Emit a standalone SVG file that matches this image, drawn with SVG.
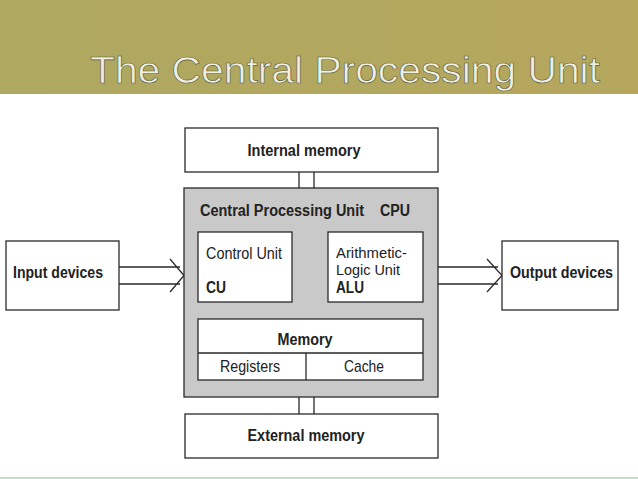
<svg xmlns="http://www.w3.org/2000/svg" width="638" height="479" viewBox="0 0 638 479">
<defs>
<linearGradient id="band" x1="0" y1="0" x2="1" y2="0">
<stop offset="0" stop-color="#aea861"/>
<stop offset="1" stop-color="#b6a75d"/>
</linearGradient>
</defs>
<style>
.box{fill:#ffffff;stroke:#2a2a2a;stroke-width:1.3}
.cpu{fill:#c9c9c9;stroke:#2a2a2a;stroke-width:1.3}
.ln{stroke:#2a2a2a;stroke-width:1.3;fill:none}
.b{font-family:"Liberation Sans",Arial,sans-serif;font-weight:bold;font-size:16px;fill:#222}
.r{font-family:"Liberation Sans",Arial,sans-serif;font-size:17px;fill:#222}
.s{font-family:"Liberation Sans",Arial,sans-serif;font-size:15px;fill:#222}
.title{font-family:"Liberation Sans",Arial,sans-serif;font-size:36px;fill:#f0f0e2;stroke:#5a5a3a;stroke-width:0.6}
</style>
<rect x="0" y="0" width="638" height="479" fill="#ffffff"/>
<rect x="0" y="0" width="638" height="94" fill="url(#band)"/>
<rect x="0" y="477" width="638" height="2" fill="#c5dcc5"/>
<text class="title" x="90" y="83" textLength="510" lengthAdjust="spacingAndGlyphs">The Central Processing Unit</text>

<g id="connectors">
<path class="ln" d="M299 172V188M314 172V188"/>
<path class="ln" d="M299 397V414M314 397V414"/>
<path class="ln" d="M119 267H180M119 284H180M170 259L184 275.5L170 292"/>
<path class="ln" d="M438 267H498M438 284H498M487 259L502 275.5L487 292"/>
</g>

<g id="internal-memory">
<rect class="box" x="185" y="128" width="253" height="44"/>
<text class="b" x="304" y="156" text-anchor="middle" textLength="113" lengthAdjust="spacingAndGlyphs">Internal memory</text>
</g>

<g id="cpu">
<rect class="cpu" x="184" y="188" width="254" height="209"/>
<text class="b" x="200" y="216" textLength="164" lengthAdjust="spacingAndGlyphs">Central Processing Unit</text>
<text class="b" x="380" y="216" textLength="30" lengthAdjust="spacingAndGlyphs">CPU</text>
</g>

<g id="control-unit">
<rect class="box" x="198" y="232" width="94" height="70"/>
<text class="r" x="206" y="259" textLength="76" lengthAdjust="spacingAndGlyphs">Control Unit</text>
<text class="b" x="206" y="293" textLength="20" lengthAdjust="spacingAndGlyphs">CU</text>
</g>

<g id="alu">
<rect class="box" x="328" y="232" width="95" height="70"/>
<text class="s" x="336" y="257.5" textLength="71" lengthAdjust="spacingAndGlyphs">Arithmetic-</text>
<text class="s" x="336" y="275" textLength="64" lengthAdjust="spacingAndGlyphs">Logic Unit</text>
<text class="b" x="336" y="293" textLength="28" lengthAdjust="spacingAndGlyphs">ALU</text>
</g>

<g id="memory">
<rect class="box" x="198" y="319" width="225" height="61"/>
<path class="ln" d="M198 353H423M306 353V380"/>
<text class="b" x="305" y="345" text-anchor="middle" textLength="55" lengthAdjust="spacingAndGlyphs">Memory</text>
<text class="r" x="250" y="372" text-anchor="middle" textLength="60" lengthAdjust="spacingAndGlyphs">Registers</text>
<text class="r" x="364" y="372" text-anchor="middle" textLength="40" lengthAdjust="spacingAndGlyphs">Cache</text>
</g>

<g id="external-memory">
<rect class="box" x="185" y="414" width="253" height="44"/>
<text class="b" x="306" y="441" text-anchor="middle" textLength="117" lengthAdjust="spacingAndGlyphs">External memory</text>
</g>

<g id="input-devices">
<rect class="box" x="6" y="241" width="113" height="69"/>
<text class="b" x="13" y="278" textLength="90" lengthAdjust="spacingAndGlyphs">Input devices</text>
</g>

<g id="output-devices">
<rect class="box" x="502" y="241" width="116" height="69"/>
<text class="b" x="510" y="278" textLength="103" lengthAdjust="spacingAndGlyphs">Output devices</text>
</g>
</svg>
